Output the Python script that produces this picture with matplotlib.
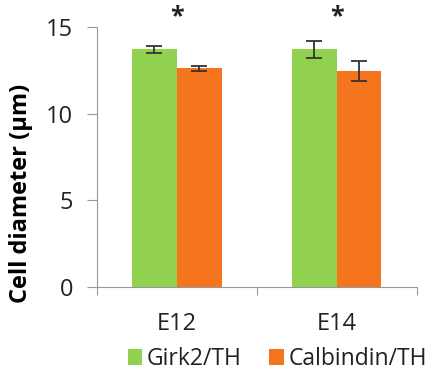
import matplotlib
matplotlib.use("Agg")
import matplotlib.pyplot as plt
import numpy as np

categories = ["E12", "E14"]
series_names = ["Girk2/TH", "Calbindin/TH"]
girk2 = [13.7, 13.7]
girk2_err = [0.2, 0.5]
calb = [12.6, 12.45]
calb_err = [0.15, 0.6]
stars = ["*", "*"]
yticks = [0, 5, 10, 15]

plt.rcParams['font.family'] = ['Open Sans', 'DejaVu Sans']

fig = plt.figure(figsize=(4.31, 3.72), dpi=100)
ax = fig.add_axes([0.2244, 0.2277, 0.7424, 0.7005])

x = np.arange(len(categories))
w = 0.28
spine_c = "#999999"
ekw = dict(ecolor="#333333", elinewidth=1.3, capsize=6, capthick=1.3)
ax.bar(x - w/2, girk2, w, color="#92D050", label=series_names[0], yerr=girk2_err, error_kw=ekw)
ax.bar(x + w/2, calb, w, color="#F5751F", label=series_names[1], yerr=calb_err, error_kw=ekw)

for xi, s in zip(x, stars):
    ax.text(xi, 15.6, s, ha="center", va="center", fontsize=18, fontweight="bold",
            color="#222222", clip_on=False)

ax.set_xlim(-0.5, 1.5)
ax.set_ylim(0, 15)
ax.set_yticks(yticks)
ax.set_yticklabels([str(t) for t in yticks], fontsize=17, color="#222222")
ax.set_xticks([-0.5, 0.5, 1.5])
ax.set_xticklabels([])
ax.set_xticks(x, minor=True)
ax.set_xticklabels(categories, minor=True, fontsize=17, color="#222222")
ax.tick_params(axis="x", which="minor", length=0, pad=18)
ax.tick_params(axis="x", which="major", length=5.5, color=spine_c)
ax.tick_params(axis="y", length=7, color=spine_c, pad=10)
for side in ["top", "right"]:
    ax.spines[side].set_visible(False)
for side in ["left", "bottom"]:
    ax.spines[side].set_color(spine_c)
ax.set_ylabel("Cell diameter (µm)", fontsize=17, fontweight="bold")
ax.yaxis.set_label_coords(-0.2, 0.362)

fig.legend(loc="center", bbox_to_anchor=(277.5/431, 1 - 359/372), ncol=2, frameon=False,
           fontsize=16.5, handlelength=0.65, handleheight=0.65, handletextpad=0.2,
           columnspacing=1.2, borderaxespad=0, borderpad=0, labelcolor="#222222")

fig.savefig("out.png", dpi=100)
